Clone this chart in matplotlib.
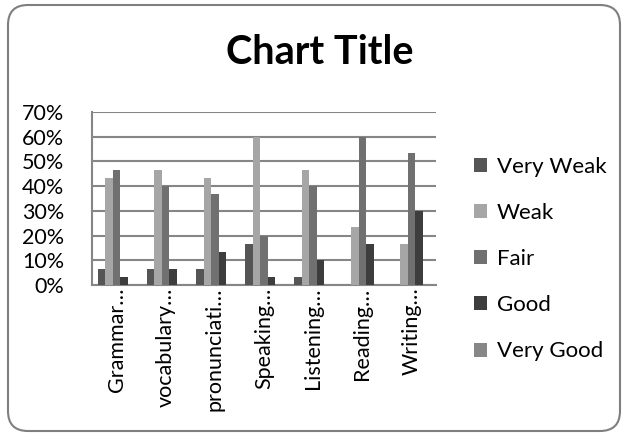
import matplotlib
matplotlib.use("Agg")
import matplotlib.pyplot as plt
import numpy as np
from matplotlib.patches import FancyBboxPatch, Patch
from matplotlib.ticker import PercentFormatter

plt.rcParams['font.family'] = ['Lato', 'DejaVu Sans']

categories = ["Grammar…", "vocabulary…", "pronunciati…", "Speaking…",
              "Listening…", "Reading…", "Writing…"]
series_names = ["Very Weak", "Weak", "Fair", "Good", "Very Good"]
very_weak = [6.67, 6.67, 6.67, 16.67, 3.33, 0, 0]
weak = [43.33, 46.67, 43.33, 60.0, 46.67, 23.33, 16.67]
fair = [46.67, 40.0, 36.67, 20.0, 40.0, 60.0, 53.33]
good = [3.33, 6.67, 13.33, 3.33, 10.0, 16.67, 30.0]
very_good = [0, 0, 0, 0, 0, 0, 0]
series = [very_weak, weak, fair, good, very_good]
colors = ["#555555", "#a6a6a6", "#707070", "#3d3d3d", "#878787"]
yticks = [0, 10, 20, 30, 40, 50, 60, 70]

W, H = 623, 433
fig = plt.figure(figsize=(W / 100, H / 100), dpi=100)
ax = fig.add_axes([92 / W, (H - 285) / H, 344 / W, 173 / H])

x = np.arange(len(categories))
bw = 1 / 6.5
for j, (vals, c) in enumerate(zip(series, colors)):
    ax.bar(x + (j - 2) * bw, vals, width=bw, color=c, zorder=3)

ax.set_xlim(-0.5, len(categories) - 0.5)
ax.set_ylim(0, 70)
ax.set_yticks(yticks)
ax.yaxis.set_major_formatter(PercentFormatter(decimals=0))
ax.grid(axis='y', color='#868686', linewidth=1.5, zorder=0)
ax.set_xticks(x)
ax.set_xticklabels(categories, rotation=90, fontsize=15.5)
ax.tick_params(axis='x', length=0, pad=2)
ax.tick_params(axis='y', length=0, pad=20, labelsize=15.5)
for s in ['top', 'right']:
    ax.spines[s].set_visible(False)
for s in ['left', 'bottom']:
    ax.spines[s].set_color('#868686')
    ax.spines[s].set_linewidth(1.5)

fig.text(320 / W, 1 - 52 / H, "Chart Title", fontsize=28.5, fontweight='bold',
         ha='center', va='center')

handles = [Patch(facecolor=c, edgecolor='none') for c in colors]
fig.legend(handles, series_names, loc='center left',
           bbox_to_anchor=(454 / W, 1 - 259 / H), frameon=False,
           fontsize=16, handlelength=0.58, handleheight=0.58,
           handletextpad=0.45, labelspacing=1.18)

border = FancyBboxPatch((8, 2), 612, 426, boxstyle="round,pad=0,rounding_size=20",
                        transform=None, facecolor='none', edgecolor='#7f7f7f',
                        linewidth=1.5)
fig.patches.append(border)

fig.savefig("out.png", dpi=100)
